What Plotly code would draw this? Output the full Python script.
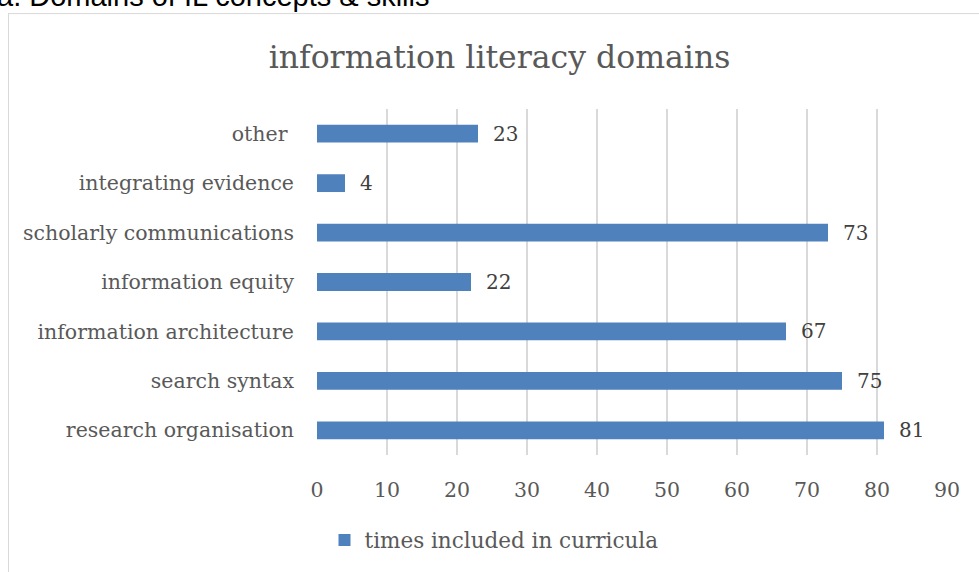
import plotly.graph_objects as go

categories = ["research organisation", "search syntax", "information architecture",
              "information equity", "scholarly communications", "integrating evidence",
              "other\u00a0"]
values = [81, 75, 67, 22, 73, 4, 23]
series_name = "times included in curricula"
x_ticks = [0, 10, 20, 30, 40, 50, 60, 70, 80, 90]

W, H = 979, 572
L, R, T, B = 317, 947, 109, 459
pw, ph = R - L, B - T

def px_x(x):
    return (x - L) / pw

def px_y(y):
    return 1 - (y - T) / ph

serif = "DejaVu Serif"
gray = "#595959"

fig = go.Figure()
fig.add_trace(go.Bar(
    x=values, y=categories, orientation="h", name=series_name,
    marker=dict(color="#4f81bd", line=dict(width=0)),
    showlegend=True,
))

for v, c in zip(values, categories):
    fig.add_annotation(x=v, y=c, xref="x", yref="y", text=str(v), showarrow=False,
                       xanchor="left", yanchor="middle", xshift=13,
                       font=dict(family=serif, size=20, color="#404040"))

# caption (partially cut at top)
fig.add_annotation(text="a. Domains of IL concepts & skills", xref="paper", yref="paper",
                   x=px_x(-5), y=px_y(13), xanchor="left", yanchor="bottom",
                   showarrow=False, font=dict(family="Liberation Sans, Arial", size=29, color="#000000"))

# outer frame lines
fig.add_shape(type="line", xref="paper", yref="paper", x0=px_x(8.5), x1=px_x(8.5),
              y0=px_y(12), y1=px_y(590), line=dict(color="#d9d9d9", width=1))
fig.add_shape(type="line", xref="paper", yref="paper", x0=px_x(8.5), x1=px_x(1000),
              y0=px_y(12.5), y1=px_y(12.5), line=dict(color="#d9d9d9", width=1))

fig.update_layout(
    width=W, height=H,
    margin=dict(l=L, r=W - R, t=T, b=H - B, pad=0),
    paper_bgcolor="white", plot_bgcolor="white",
    bargap=0.64,
    title=dict(text="information literacy domains", x=499.5 / W, xanchor="center",
               xref="container", y=1 - 57 / H, yanchor="middle", yref="container",
               font=dict(family=serif, size=31.5, color=gray)),
    xaxis=dict(range=[0, 90], tickvals=x_ticks, showgrid=True, gridcolor="#d9d9d9", gridwidth=2,
               zeroline=False, showline=False, ticks="", ticklabelstandoff=20,
               tickfont=dict(family=serif, size=20.5, color=gray)),
    yaxis=dict(type="category", categoryorder="array", categoryarray=categories,
               showgrid=False, zeroline=False, showline=False, ticks="",
               ticklabelstandoff=22,
               tickfont=dict(family=serif, size=20.5, color=gray)),
    legend=dict(orientation="h", x=px_x(494), y=px_y(545), xanchor="center", yanchor="middle",
                font=dict(family=serif, size=21.5, color=gray), itemwidth=30,
                bgcolor="rgba(0,0,0,0)"),
    font=dict(family=serif, color=gray),
)

fig.write_html("out.html", config={"displayModeBar": False},
               post_script="document.body.style.margin='0';document.body.style.overflow='hidden';")
